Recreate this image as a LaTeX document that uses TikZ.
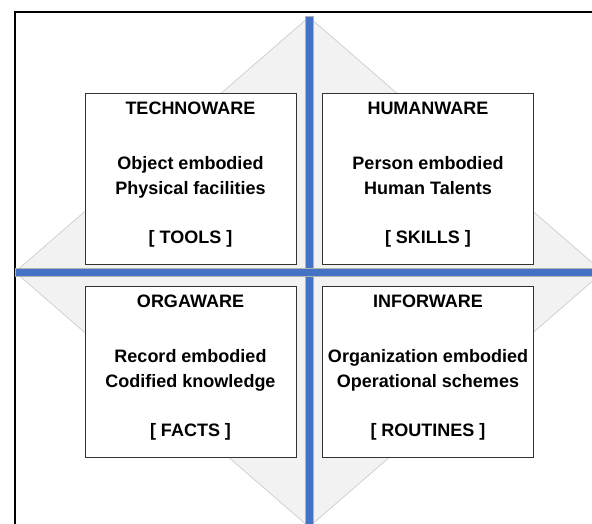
\documentclass[tikz,border=0pt]{standalone}
\usepackage{fontspec}
\setmainfont{Liberation Sans}
\usepackage{tikz}
\usetikzlibrary{positioning}

\definecolor{axisblue}{HTML}{4472C4}
\definecolor{diamondgray}{HTML}{F2F2F2}

\begin{document}
\begin{tikzpicture}[x=1pt,y=-1pt,
  warebox/.style={draw=black!80, fill=white, line width=0.8pt, minimum width=211pt, minimum height=171pt, inner sep=0pt},
  waretext/.style={align=center, font=\fontsize{18}{24.5}\selectfont\bfseries, inner sep=0pt, anchor=north}]
\useasboundingbox (0,0) rectangle (592,523);
\clip (0,0) rectangle (592,523);
\draw[line width=1.2pt] (15,12) rectangle (620,560);
\filldraw[fill=diamondgray, draw=black!22, line width=0.6pt] (309,17) -- (603,272) -- (309,527) -- (15,272) -- cycle;
\filldraw[fill=axisblue, draw=black!30, line width=0.6pt] (305,16) rectangle (313,540);
\filldraw[fill=axisblue, draw=black!30, line width=0.6pt] (15,268.5) rectangle (600,276);
\fill[axisblue] (305.3,268.8) rectangle (312.7,275.7);

\node[warebox] (techno) at (190.5,178.5) {};
\node[warebox] (human) at (428,178.5) {};
\node[warebox] (orga) at (190.5,371.5) {};
\node[warebox] (infor) at (428,371.5) {};

\node[waretext] (technotext) at ([yshift=-9pt]techno.north) {TECHNOWARE\\[31pt]Object embodied\\Physical facilities\\[24.5pt][ TOOLS ]};
\node[waretext] (humantext) at ([yshift=-9pt]human.north) {HUMANWARE\\[31pt]Person embodied\\Human Talents\\[24.5pt][ SKILLS ]};
\node[waretext] (orgatext) at ([yshift=-9pt]orga.north) {ORGAWARE\\[31pt]Record embodied\\Codified knowledge\\[24.5pt][ FACTS ]};
\node[waretext] (infortext) at ([yshift=-9pt]infor.north) {INFORWARE\\[31pt]Organization embodied\\Operational schemes\\[24.5pt][ ROUTINES ]};
\end{tikzpicture}
\end{document}
